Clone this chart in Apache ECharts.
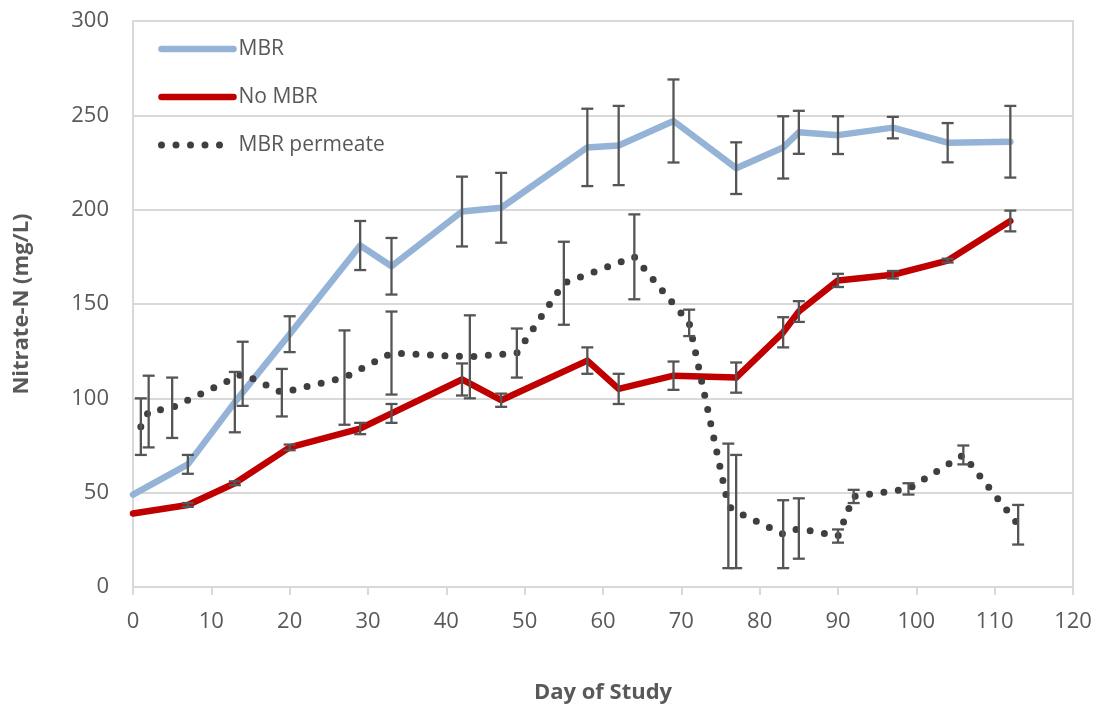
<!DOCTYPE html>
<html>
<head>
<meta charset="utf-8">
<script src="https://cdn.jsdelivr.net/npm/echarts@6/dist/echarts.min.js"></script>
<style>
  html, body { margin: 0; padding: 0; background: #fff; }
  #chart { width: 1096px; height: 710px; }
</style>
</head>
<body>
<div id="chart"></div>
<script>
// Nitrate-N concentrations (mg/L) by day of study, with ± error bars
const reactorDays = [0, 7, 13, 20, 29, 33, 42, 47, 58, 62, 69, 77, 83, 85, 90, 97, 104, 112];

const mbrValues = [49, 65, 98, 134, 181, 170, 199, 201, 233, 234, 247, 222, 233, 241, 239.5, 243.5, 235.5, 236];
const mbrErrors = [0, 5, 16, 9.5, 13, 15, 18.5, 18.5, 20.5, 21, 22, 13.7, 16.5, 11.4, 10, 5.7, 10.4, 19];

const noMbrValues = [39, 43.5, 55, 74, 84, 92, 110, 99, 120, 105, 112, 111, 135, 146, 162.5, 165.5, 173, 194];
const noMbrErrors = [0, 1, 1, 1.5, 3, 5, 8.5, 3.5, 7, 8, 7.5, 8, 8, 5.5, 3.5, 2, 1, 5.5];

const permeateDays = [1, 2, 5, 14, 19, 27, 33, 43, 49, 55, 64, 71, 76, 77, 83, 85, 90, 92, 99, 106, 113];
const permeateValues = [85, 93, 95, 113, 103, 111, 124, 122, 124, 161, 175, 140, 43, 40, 28, 31, 27, 48, 52, 70, 33];
const permeateErrors = [15, 19, 16, 17, 12.6, 25, 22, 22, 13, 22, 22.5, 7, 33, 30, 18, 16, 3.5, 3.5, 3, 5, 10.5];

const seriesNames = ['MBR', 'No MBR', 'MBR permeate'];

const FONT = '"Open Sans", "Noto Sans", sans-serif';
const TEXT_COLOR = '#595959';
const GRID_COLOR = '#D9D9D9';
const ERR_COLOR = '#555555';

const MBR_STYLE = { color: '#95B3D7', width: 6.5, cap: 'round', join: 'round' };
const NOMBR_STYLE = { color: '#C00000', width: 6.5, cap: 'round', join: 'round' };
const PERM_STYLE = { color: '#3F3F3F', width: 7, type: [0, 14.5], cap: 'round', join: 'round' };

// legend keys show the line only, without a point marker
const NO_MARKER = { color: 'rgba(0,0,0,0)', borderWidth: 0, opacity: 0 };

function pairs(xs, ys) {
  return xs.map((x, i) => [x, ys[i]]);
}

// Vertical error bar with flat caps, drawn in data coordinates
function errorBars(name, xs, ys, errs) {
  const data = xs
    .map((x, i) => [x, ys[i] - errs[i], ys[i] + errs[i], errs[i]])
    .filter(r => r[3] > 0);
  return {
    type: 'custom',
    name: name + ' error',
    data: data,
    z: 10,
    silent: true,
    encode: { x: 0, y: [1, 2] },
    renderItem: function (params, api) {
      const x = api.value(0);
      const lo = api.coord([x, api.value(1)]);
      const hi = api.coord([x, api.value(2)]);
      const hw = 6;
      const style = { stroke: ERR_COLOR, lineWidth: 2.3 };
      return {
        type: 'group',
        children: [
          { type: 'line', shape: { x1: lo[0], y1: lo[1], x2: hi[0], y2: hi[1] }, style: style },
          { type: 'line', shape: { x1: lo[0] - hw, y1: lo[1], x2: lo[0] + hw, y2: lo[1] }, style: style },
          { type: 'line', shape: { x1: hi[0] - hw, y1: hi[1], x2: hi[0] + hw, y2: hi[1] }, style: style }
        ]
      };
    }
  };
}

const chart = echarts.init(document.getElementById('chart'), null, { renderer: 'canvas' });

chart.setOption({
  animation: false,
  backgroundColor: '#ffffff',
  textStyle: { fontFamily: FONT },
  grid: {
    left: 133, right: 23, top: 21, bottom: 123,
    show: true, borderColor: GRID_COLOR, borderWidth: 2
  },
  legend: {
    orient: 'vertical',
    left: 153,
    top: 32,
    itemWidth: 72,
    itemHeight: 14,
    itemGap: 24,
    textStyle: { fontFamily: FONT, fontSize: 21, color: TEXT_COLOR, lineHeight: 24 },
    data: [
      { name: seriesNames[0], lineStyle: MBR_STYLE, itemStyle: NO_MARKER },
      { name: seriesNames[1], lineStyle: NOMBR_STYLE, itemStyle: NO_MARKER },
      { name: seriesNames[2], lineStyle: PERM_STYLE, itemStyle: NO_MARKER }
    ]
  },
  xAxis: {
    type: 'value',
    min: 0, max: 120, interval: 10,
    name: 'Day of Study',
    nameLocation: 'middle',
    nameGap: 95,
    nameTextStyle: { fontFamily: FONT, fontSize: 22, fontWeight: 'bold', color: TEXT_COLOR },
    axisLine: { show: true, lineStyle: { color: GRID_COLOR, width: 2 } },
    axisTick: { show: true, length: 8, lineStyle: { color: GRID_COLOR, width: 2 } },
    splitLine: { show: false },
    axisLabel: { fontFamily: FONT, fontSize: 22, color: TEXT_COLOR, margin: 24 }
  },
  yAxis: {
    type: 'value',
    min: 0, max: 300, interval: 50,
    name: 'Nitrate-N (mg/L)',
    nameLocation: 'middle',
    nameGap: 100,
    nameTextStyle: { fontFamily: FONT, fontSize: 22, fontWeight: 'bold', color: TEXT_COLOR },
    axisLine: { show: true, lineStyle: { color: GRID_COLOR, width: 2 } },
    axisTick: { show: false },
    splitLine: { show: true, lineStyle: { color: GRID_COLOR, width: 2 } },
    axisLabel: { fontFamily: FONT, fontSize: 22, color: TEXT_COLOR, margin: 24 }
  },
  series: [
    {
      name: seriesNames[0], type: 'line', data: pairs(reactorDays, mbrValues),
      symbol: 'none', lineStyle: MBR_STYLE, itemStyle: { color: MBR_STYLE.color }, z: 2
    },
    {
      name: seriesNames[1], type: 'line', data: pairs(reactorDays, noMbrValues),
      symbol: 'none', lineStyle: NOMBR_STYLE, itemStyle: { color: NOMBR_STYLE.color }, z: 3
    },
    {
      name: seriesNames[2], type: 'line', data: pairs(permeateDays, permeateValues),
      symbol: 'none', lineStyle: PERM_STYLE, itemStyle: { color: PERM_STYLE.color }, z: 4
    },
    errorBars(seriesNames[0], reactorDays, mbrValues, mbrErrors),
    errorBars(seriesNames[1], reactorDays, noMbrValues, noMbrErrors),
    errorBars(seriesNames[2], permeateDays, permeateValues, permeateErrors)
  ]
});
</script>
</body>
</html>
